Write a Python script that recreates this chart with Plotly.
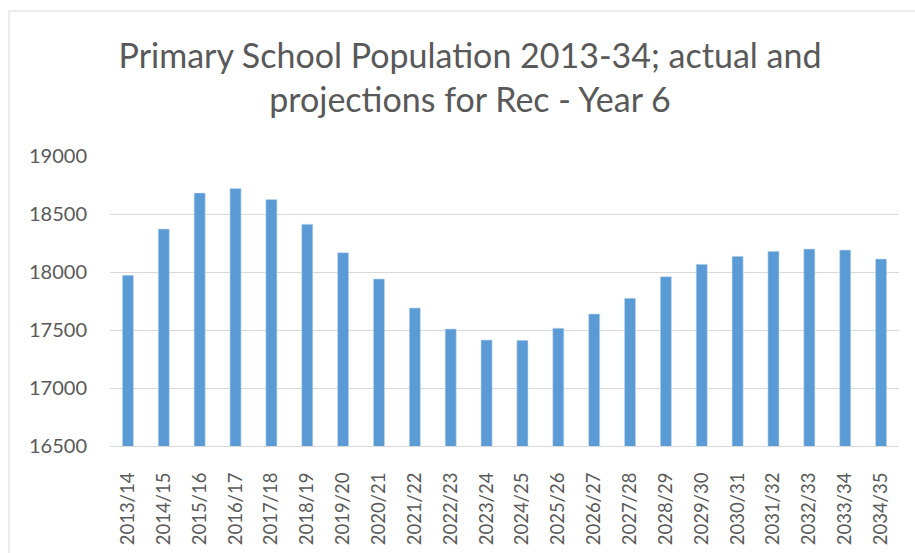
import plotly.graph_objects as go

years = ["2013/14", "2014/15", "2015/16", "2016/17", "2017/18", "2018/19", "2019/20",
         "2020/21", "2021/22", "2022/23", "2023/24", "2024/25", "2025/26", "2026/27",
         "2027/28", "2028/29", "2029/30", "2030/31", "2031/32", "2032/33", "2033/34",
         "2034/35"]
population = [17972, 18371, 18681, 18719, 18624, 18411, 18167, 17940, 17690, 17509,
              17414, 17411, 17515, 17638, 17773, 17960, 18066, 18135, 18178, 18198,
              18189, 18112]
y_ticks = [16500, 17000, 17500, 18000, 18500, 19000]

W, H = 915, 553
L, R, T, B = 110, 16, 156, 107
plot_h = H - T - B
plot_w = W - L - R

fig = go.Figure()
fig.add_trace(go.Bar(
    x=years, y=population,
    marker=dict(color="#5b9bd5", line=dict(color="#c9ddf0", width=0.6)),
    width=0.31,
))

font_fam = "Lato, 'Open Sans', sans-serif"
fig.update_layout(
    width=W, height=H,
    margin=dict(l=L, r=R, t=T, b=B, pad=0, autoexpand=False),
    paper_bgcolor="white", plot_bgcolor="white",
    showlegend=False,
    title=dict(
        text="Primary School Population 2013-34; actual and<br>projections for Rec - Year 6",
        x=470 / W, xref="container", xanchor="center",
        y=1 - 68 / H, yref="container", yanchor="top",
        font=dict(family=font_fam, size=34, color="#595959"),
        automargin=False,
    ),
    xaxis=dict(
        tickangle=-90,
        tickfont=dict(family=font_fam, size=18.5, color="#595959"),
        showgrid=False,
        showline=True, linecolor="#d9d9d9", linewidth=1.3,
        ticks="", ticklabelstandoff=18, automargin=False,
    ),
    yaxis=dict(
        range=[16500, 19000],
        tickvals=y_ticks,
        ticktext=[str(v) for v in y_ticks],
        tickfont=dict(family=font_fam, size=20, color="#595959"),
        showgrid=True, gridcolor="#d9d9d9", gridwidth=1.3,
        zeroline=False, showline=False,
        ticks="", ticklabelstandoff=22, automargin=False,
    ),
    shapes=[dict(
        type="rect", xref="paper", yref="paper",
        x0=(9 - L) / plot_w, x1=(W + 10 - L) / plot_w,
        y0=-(H + 10 - (H - B)) / plot_h, y1=((H - B) - 11) / plot_h,
        line=dict(color="#d9d9d9", width=1), fillcolor="rgba(0,0,0,0)",
        layer="below",
    )],
)

fig.write_html(
    "out.html",
    config={"displayModeBar": False},
    post_script="document.body.style.margin='0';document.body.style.overflow='hidden';",
)
